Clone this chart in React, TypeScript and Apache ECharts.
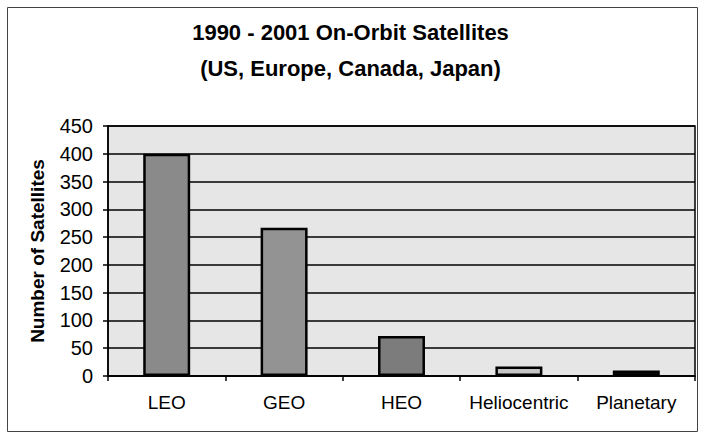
import React, { useEffect, useRef } from "react";
import * as echarts from "echarts";

const categories = ["LEO", "GEO", "HEO", "Heliocentric", "Planetary"];
const satellites = [400, 267, 72, 17, 10];
const barColors = ["#8a8a8a", "#939393", "#7c7c7c", "#c4c4c4", "#111111"];
const titleLines = ["1990 - 2001 On-Orbit Satellites", "(US, Europe, Canada, Japan)"];
const yAxisTitle = "Number of Satellites";

export default function App() {
  const ref = useRef<HTMLDivElement>(null);
  useEffect(() => {
    if (!ref.current) return;
    const chart = echarts.init(ref.current, undefined, { renderer: "svg" });
    const font = "'Liberation Sans', Arial, sans-serif";
    chart.setOption({
      animation: false,
      backgroundColor: "#ffffff",
      textStyle: { fontFamily: font },
      title: {
        text: titleLines.join("\n"),
        left: "center",
        top: 9,
        textStyle: {
          fontFamily: font,
          fontSize: 22,
          fontWeight: "bold",
          color: "#000",
          lineHeight: 36,
        },
      },
      graphic: [
        {
          type: "rect",
          shape: { x: 7.5, y: 7.5, width: 690, height: 424 },
          style: { fill: "none", stroke: "#444", lineWidth: 1 },
          silent: true,
        },
      ],
      grid: { left: 108, right: 6, top: 126, bottom: 59, show: true, backgroundColor: "#e6e6e6", borderColor: "#000", borderWidth: 1.5 },
      xAxis: {
        type: "category",
        data: categories,
        axisLine: { lineStyle: { color: "#000", width: 1.5 } },
        axisTick: { show: true, length: 5, inside: false, lineStyle: { color: "#000", width: 1.5 } },
        axisLabel: { fontFamily: font, fontSize: 19, color: "#000", margin: 17, interval: 0 },
      },
      yAxis: {
        type: "value",
        min: 0,
        max: 450,
        interval: 50,
        name: yAxisTitle,
        nameLocation: "middle",
        nameRotate: 90,
        nameGap: 61,
        nameTextStyle: { fontFamily: font, fontSize: 19, fontWeight: "bold", color: "#000" },
        axisLine: { show: true, lineStyle: { color: "#000", width: 1.5 } },
        axisTick: { show: true, length: 5, lineStyle: { color: "#000", width: 1.5 } },
        axisLabel: { fontFamily: font, fontSize: 20, color: "#000", margin: 15 },
        splitLine: { show: true, lineStyle: { color: "#000", width: 1.5 } },
      },
      series: [
        {
          type: "bar",
          data: satellites.map((v, i) => ({ value: v, itemStyle: { color: barColors[i] } })),
          barWidth: "40%",
          itemStyle: { borderColor: "#000", borderWidth: 2.5 },
        },
      ],
    });
    return () => chart.dispose();
  }, []);
  return <div ref={ref} style={{ width: 701, height: 435, position: "absolute", left: 0, top: 0 }} />;
}
